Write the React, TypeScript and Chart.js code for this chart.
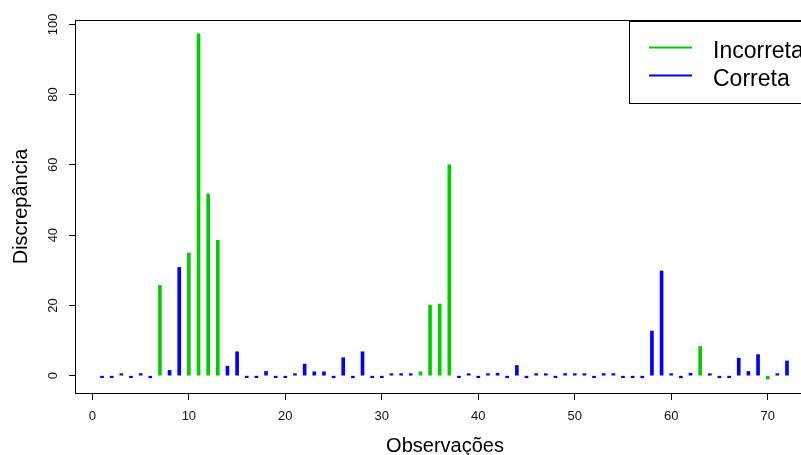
import { useEffect, useRef } from 'react';
import { Chart, registerables } from 'chart.js';

Chart.register(...registerables);

// Discrepância de cada observação (obs. 1 a 72)
const discrepancia = [
  -0.5, -0.5, 0.2, -0.4, 0.6, -0.6, 25.7, 1.5, 30.8, 34.9,
  97.3, 51.7, 38.5, 2.7, 6.8, -0.4, -0.3, 1.2, -0.5, -0.5,
  0.3, 3.3, 1.1, 1.1, -0.6, 5.1, -0.6, 6.8, -0.4, -0.3,
  0.1, 0.1, 0.1, 1.1, 20.1, 20.4, 60.0, -0.6, 0.2, -0.5,
  0.2, 0.7, -0.6, 2.9, -0.6, 0.2, 0.1, -0.4, 0.6, 0.1,
  0.1, -0.4, 0.6, 0.6, -0.4, -0.2, -0.6, 12.7, 29.8, 0.2,
  -0.6, 0.7, 8.3, 0.2, -0.6, -0.3, 5.0, 1.2, 6.0, -1.0,
  0.2, 4.2,
];

// Classificação de cada observação: 'I' = incorreta, 'C' = correta
const classe = [
  'C', 'C', 'C', 'C', 'C', 'C', 'I', 'C', 'C', 'I',
  'I', 'I', 'I', 'C', 'C', 'C', 'C', 'C', 'C', 'C',
  'C', 'C', 'C', 'C', 'C', 'C', 'C', 'C', 'C', 'C',
  'C', 'C', 'C', 'I', 'I', 'I', 'I', 'C', 'C', 'C',
  'C', 'C', 'C', 'C', 'C', 'C', 'C', 'C', 'C', 'C',
  'C', 'C', 'C', 'C', 'C', 'C', 'C', 'C', 'C', 'C',
  'C', 'C', 'I', 'C', 'C', 'C', 'C', 'C', 'C', 'I',
  'C', 'C',
];

const grupos = ['I', 'C'];
const rotulosLegenda = ['Incorreta', 'Correta'];
const cores = ['#00cd00', '#0000ff'];

const ticksX = [0, 10, 20, 30, 40, 50, 60, 70];
const ticksY = [0, 20, 40, 60, 80, 100];

const FONTE = '"Liberation Sans", Arial, Helvetica, sans-serif';

// limites do eixo y com a folga de 4% usada em gráficos do R
const yLo = Math.min(...discrepancia);
const yHi = Math.max(...discrepancia);
const folga = 0.04 * (yHi - yLo);

const moldura = {
  id: 'moldura',
  afterDraw(chart: any) {
    const { ctx, chartArea: a, scales } = chart;
    ctx.save();

    // caixa do gráfico
    ctx.strokeStyle = '#000';
    ctx.lineWidth = 1;
    ctx.strokeRect(a.left - 0.5, a.top + 0.5, a.right - a.left + 1, a.bottom - a.top);

    // rótulos do eixo y (paralelos ao eixo)
    ctx.fillStyle = '#111';
    ctx.font = `13px ${FONTE}`;
    ctx.textAlign = 'center';
    ctx.textBaseline = 'alphabetic';
    for (const t of ticksY) {
      const y = scales.y.getPixelForValue(t);
      ctx.save();
      ctx.translate(56.5, y);
      ctx.rotate(-Math.PI / 2);
      ctx.fillText(String(t), 0, 0);
      ctx.restore();
    }

    // títulos dos eixos
    ctx.fillStyle = '#000';
    ctx.font = `20px ${FONTE}`;
    ctx.save();
    ctx.translate(27, (a.top + a.bottom) / 2);
    ctx.rotate(-Math.PI / 2);
    ctx.fillText('Discrepância', 0, 0);
    ctx.restore();
    ctx.fillText('Observações', (a.left + a.right) / 2, 452);

    // legenda
    const lx = a.right - 185;
    const ly = a.top + 1.5;
    ctx.fillStyle = '#fff';
    ctx.fillRect(lx, ly, 300, 82);
    ctx.strokeStyle = '#000';
    ctx.strokeRect(lx + 0.5, ly, 300, 82);
    ctx.font = `23px ${FONTE}`;
    ctx.textAlign = 'left';
    rotulosLegenda.forEach((rotulo, i) => {
      const yl = ly + 26 + i * 28;
      ctx.strokeStyle = cores[i];
      ctx.lineWidth = 2;
      ctx.beginPath();
      ctx.moveTo(lx + 20, yl);
      ctx.lineTo(lx + 63, yl);
      ctx.stroke();
      ctx.fillStyle = '#000';
      ctx.fillText(rotulo, lx + 84, yl + 10.5);
    });

    ctx.restore();
  },
};

export default function App() {
  const canvasRef = useRef<HTMLCanvasElement>(null);

  useEffect(() => {
    const canvas = canvasRef.current;
    if (!canvas) return;

    const datasets = grupos.map((g, gi) => ({
      label: rotulosLegenda[gi],
      data: discrepancia
        .map((v, i) => ({ x: i + 1, y: v, c: classe[i] }))
        .filter((p) => p.c === g)
        .map((p) => ({ x: p.x, y: p.y })),
      backgroundColor: cores[gi],
      borderWidth: 0,
      barThickness: 3,
      minBarLength: 2,
      grouped: false,
    }));

    const chart = new Chart(canvas, {
      type: 'bar',
      data: { datasets },
      options: {
        responsive: false,
        animation: false,
        devicePixelRatio: 1,
        layout: { padding: { left: 0, top: 20, right: 26, bottom: 0 } },
        plugins: {
          legend: { display: false },
          tooltip: { enabled: false },
        },
        scales: {
          x: {
            type: 'linear',
            min: -1.7,
            max: 74.8,
            offset: false,
            afterFit: (s: any) => {
              s.height = 62;
            },
            afterBuildTicks: (s: any) => {
              s.ticks = ticksX.map((value) => ({ value }));
            },
            grid: {
              offset: false,
              drawOnChartArea: false,
              drawTicks: true,
              tickLength: 7,
              color: '#000',
              lineWidth: 1,
            },
            border: { display: false },
            ticks: {
              color: '#111',
              font: { family: FONTE, size: 13 },
              padding: 9,
              maxRotation: 0,
              autoSkip: false,
              callback: (v: any) => String(v),
            },
          },
          y: {
            type: 'linear',
            min: yLo - folga,
            max: yHi + folga,
            afterFit: (s: any) => {
              s.width = 76;
            },
            afterBuildTicks: (s: any) => {
              s.ticks = ticksY.map((value) => ({ value }));
            },
            grid: {
              offset: false,
              drawOnChartArea: false,
              drawTicks: true,
              tickLength: 7,
              color: '#000',
              lineWidth: 1,
            },
            border: { display: false },
            ticks: { display: false },
          },
        },
      },
      plugins: [moldura],
    });

    return () => chart.destroy();
  }, []);

  return (
    <div
      style={{
        position: 'absolute',
        left: 0,
        top: 0,
        width: 801,
        height: 455,
        overflow: 'hidden',
        background: '#fff',
      }}
    >
      <canvas ref={canvasRef} width={840} height={455} style={{ display: 'block' }} />
    </div>
  );
}
